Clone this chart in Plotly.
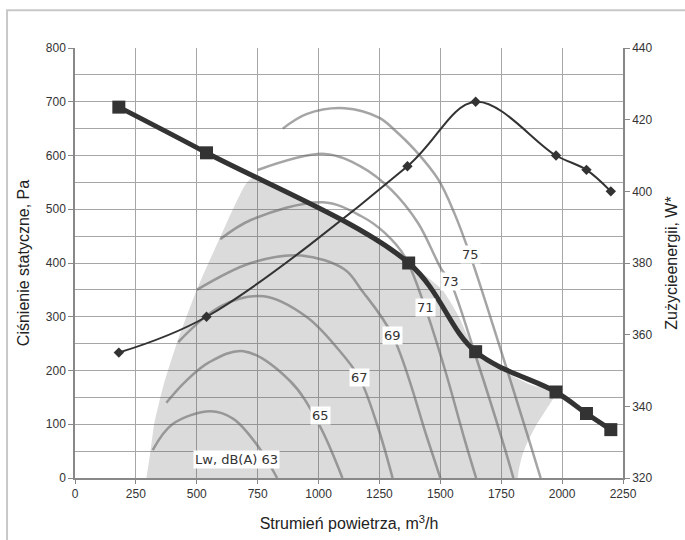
import plotly.graph_objects as go

# Fan curve: static pressure vs airflow
flow_pts = [180, 540, 1370, 1645, 1975, 2100, 2200]
pressure_pts = [690, 605, 400, 235, 160, 120, 90]

# Power consumption (right axis)
power_flow = [180, 540, 1365, 1645, 1975, 2100, 2200]
power_w = [355, 365, 407, 425, 410, 406, 400]

# Outline of the recommended working area (shaded)
area_x = [293, 310, 325, 345, 365, 425, 500, 596, 706, 750, 900, 1093, 1250, 1370,
          1506, 1575, 1645, 1750, 1874, 1975, 1934, 1891, 1856, 1836, 1822, 1818]
area_y = [0, 50, 100, 140, 175, 260, 350, 448, 550, 562, 525, 476, 440, 400,
          351, 301, 235, 201, 173, 160, 127, 96, 65, 41, 15, 0]

# Sound power level isolines Lw, dB(A)
lw63_x = [319, 400, 555, 650, 750, 830]
lw63_y = [52, 100, 124, 110, 60, 0]
lw65_x = [375, 450, 550, 692, 884, 1000, 1098]
lw65_y = [140, 178, 215, 236, 180, 101, 0]
lw67_x = [424, 600, 775, 950, 1080, 1167, 1240, 1304]
lw67_y = [253, 320, 338, 300, 240, 187, 100, 0]
lw69_x = [500, 722, 929, 1107, 1176, 1304, 1447, 1500]
lw69_y = [350, 400, 414, 388, 350, 265, 73, 0]
lw71_x = [596, 722, 1018, 1176, 1272, 1354, 1438, 1520, 1600, 1647]
lw71_y = [444, 480, 513, 487, 456, 412, 317, 200, 71, 0]
lw73_x = [750, 1025, 1176, 1299, 1409, 1505, 1540, 1650, 1754, 1800]
lw73_y = [573, 603, 579, 536, 474, 388, 366, 220, 71, 0]
lw75_x = [853, 950, 1107, 1250, 1313, 1396, 1492, 1560, 1622, 1740, 1864, 1912]
lw75_y = [650, 677, 688, 670, 647, 610, 555, 490, 415, 250, 71, 0]

label_text = ["Lw, dB(A) 63", "65", "67", "69", "71", "73", "75"]
label_x = [664, 1010, 1167, 1304, 1438, 1540, 1623]
label_y = [35, 117, 187, 265, 317, 366, 415]

x_ticks = [0, 250, 500, 750, 1000, 1250, 1500, 1750, 2000, 2250]
y_ticks = [0, 100, 200, 300, 400, 500, 600, 700, 800]
y_minor = [50, 150, 250, 350, 450, 550, 650, 750]
y2_ticks = [320, 340, 360, 380, 400, 420, 440]

fig = go.Figure()

fig.add_trace(go.Scatter(
    x=area_x, y=area_y, mode="lines", fill="toself",
    fillcolor="rgba(90,90,90,0.22)",
    line=dict(width=0, shape="spline", smoothing=0.6),
    hoverinfo="skip", showlegend=False,
))

for cx, cy in [(lw63_x, lw63_y), (lw65_x, lw65_y), (lw67_x, lw67_y), (lw69_x, lw69_y),
               (lw71_x, lw71_y), (lw73_x, lw73_y), (lw75_x, lw75_y)]:
    fig.add_trace(go.Scatter(
        x=cx, y=cy, mode="lines",
        line=dict(color="rgba(105,105,105,0.6)", width=2.5, shape="spline", smoothing=1.0),
        hoverinfo="skip", showlegend=False,
    ))

fig.add_trace(go.Scatter(
    x=power_flow, y=power_w, yaxis="y2", mode="lines+markers",
    line=dict(color="#333333", width=2, shape="spline", smoothing=1.0),
    marker=dict(symbol="diamond", size=8, color="#333333"),
    showlegend=False,
))

fig.add_trace(go.Scatter(
    x=flow_pts, y=pressure_pts, mode="lines+markers",
    line=dict(color="#333333", width=5, shape="spline", smoothing=1.0),
    marker=dict(symbol="square", size=13, color="#333333"),
    showlegend=False,
))

for t, lx, ly in zip(label_text, label_x, label_y):
    fig.add_annotation(
        x=lx, y=ly, text=t, showarrow=False,
        font=dict(family="DejaVu Sans", size=13, color="#333333"),
        bgcolor="white", borderpad=1,
    )

# light frame around the chart
fig.add_shape(
    type="rect", xref="paper", yref="paper",
    x0=-0.124, y0=-0.3, x1=1.3, y1=1.088,
    line=dict(color="#c8c8c8", width=2),
)

axis_font = dict(family="Liberation Sans", size=12, color="#333333")
title_font = dict(family="Liberation Sans", size=16, color="#222222")
grid_col = "#a6a6a6"

fig.update_layout(
    template="none",
    width=685, height=540,
    margin=dict(l=75, r=62, t=48, b=62),
    paper_bgcolor="white", plot_bgcolor="white",
    showlegend=False,
    xaxis=dict(
        range=[0, 2250], tickmode="array", tickvals=x_ticks,
        showgrid=True, gridcolor=grid_col, gridwidth=1,
        showline=True, linecolor="#888888", linewidth=1.5, zeroline=False,
        ticks="outside", ticklen=4, tickcolor="#888888", tickfont=axis_font,
        title=dict(text="Strumień powietrza, m<sup>3</sup>/h", font=title_font, standoff=18),
    ),
    yaxis=dict(
        range=[0, 800], tickmode="array", tickvals=y_ticks,
        showgrid=True, gridcolor=grid_col, gridwidth=1,
        minor=dict(tickmode="array", tickvals=y_minor, showgrid=True,
                   gridcolor=grid_col, gridwidth=1, ticks=""),
        showline=True, linecolor="#888888", linewidth=1.5, zeroline=False,
        ticks="outside", ticklen=5, tickcolor="#888888", tickfont=axis_font,
        title=dict(text="Ciśnienie statyczne, Pa", font=title_font, standoff=12),
    ),
    yaxis2=dict(
        range=[320, 440], tickmode="array", tickvals=y2_ticks, overlaying="y", side="right",
        showgrid=False, showline=True, linecolor="#888888", linewidth=1.5, zeroline=False,
        ticks="outside", ticklen=5, tickcolor="#888888", tickfont=axis_font,
        title=dict(text="Zużycieenergii, W*", font=title_font, standoff=14),
    ),
)

fig.write_html("out.html")
